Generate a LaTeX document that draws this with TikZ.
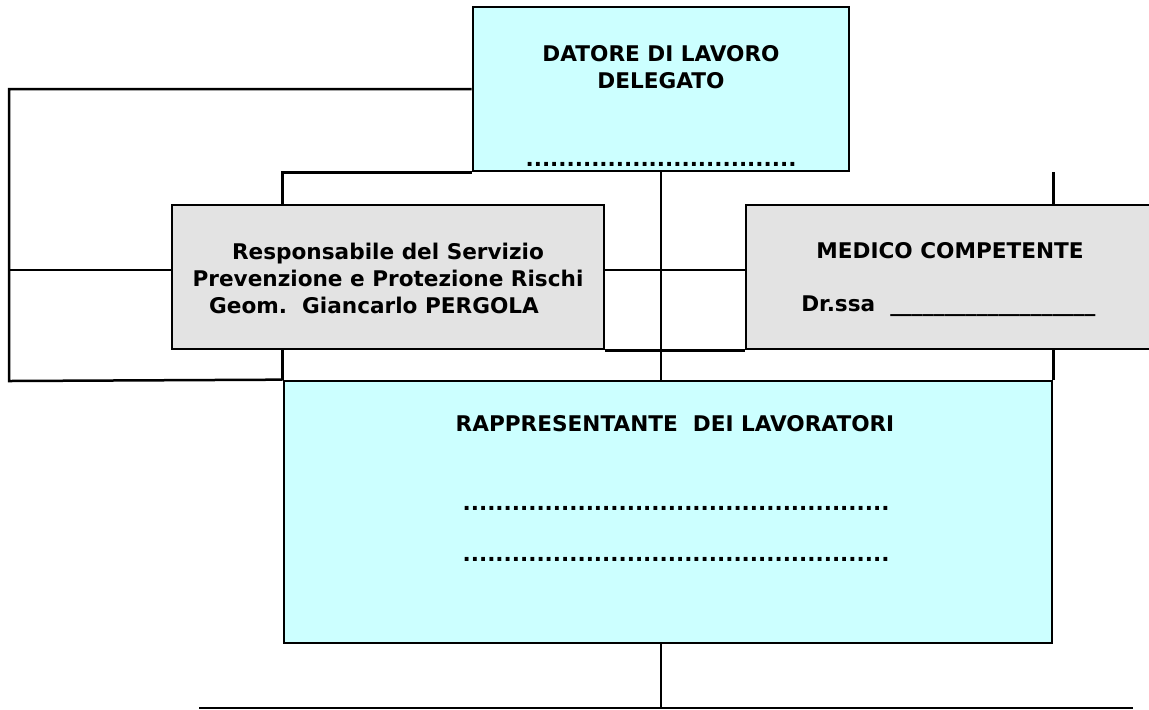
\documentclass[tikz,border=0pt]{standalone}
\usepackage{fontspec}
\setmainfont{DejaVu Sans}
\usepackage{tikz}
\usetikzlibrary{positioning}
\definecolor{azzurro}{HTML}{CCFFFF}
\definecolor{grigio}{HTML}{E3E3E3}

\begin{document}
\begin{tikzpicture}[x=0.5pt, y=-0.5pt, line width=1.25pt,
  box/.style = {draw, line width=1.35pt, inner sep=0pt},
  lab/.style = {font=\fontsize{10.8}{13.5}\selectfont\bfseries, align=center, inner sep=0pt}]
\useasboundingbox (0,0) rectangle (1149,709);
% boxes
\node [box, fill=azzurro, minimum width=188pt, minimum height=82pt] (datore) at (661,89) {};
\node [box, fill=grigio, minimum width=216pt, minimum height=72pt] (rspp) at (388,277) {};
\node [box, fill=grigio, minimum width=203pt, minimum height=72pt] (medico) at (949,277) {};
\node [box, fill=azzurro, minimum width=384pt, minimum height=131pt] (rapp) at (668,512) {};
% texts
\node [lab] (datore-t) at (661,67) {DATORE DI LAVORO\\DELEGATO};
\node [lab, anchor=base] (datore-d) at (661,166) {.................................};
\node [lab] (rspp-t) at (388,278) {Responsabile del Servizio\\Prevenzione e Protezione Rischi\\Geom.\ \ Giancarlo PERGOLA\hspace*{14pt}};
\node [lab] (medico-t) at (950,251) {MEDICO COMPETENTE};
\node [lab, anchor=base west] (medico-d) at (800,311) {Dr.ssa\ \ \_\_\_\_\_\_\_\_\_\_\_\_\_\_\_\_\_\_\_};
\node [lab] (rapp-t) at (675,424) {RAPPRESENTANTE\ \ DEI LAVORATORI};
\node [lab, anchor=base] (rapp-d1) at (676,510) {....................................................};
\node [lab, anchor=base] (rapp-d2) at (676,561) {....................................................};
% connectors
\coordinate (sx) at (9,381);
\coordinate (bl) at (199,708);
\coordinate (br) at (1133,708);
\draw (datore.west) -| (sx) -- (rapp.north west);
\draw ([yshift=3.5pt]rspp.west) -- ([yshift=3.5pt]rspp.west -| sx);
\draw (datore.south west) -| (rspp.north -| rapp.west);
\draw (rspp.south -| rapp.west) -- (rapp.north west);
\draw (datore.south) -- (datore.south |- rapp.north);
\draw ([yshift=3.5pt]rspp.east) -- ([yshift=3.5pt]medico.west);
\draw (rspp.south east) -- (medico.south west);
\draw (rapp.east |- datore.south) -- (rapp.east |- medico.north);
\draw (medico.south -| rapp.east) -- (rapp.north east);
\draw (rapp.south -| datore.south) -- (datore.south |- bl);
\draw [line width=0.75pt] (bl) -- (br);
\end{tikzpicture}
\end{document}
